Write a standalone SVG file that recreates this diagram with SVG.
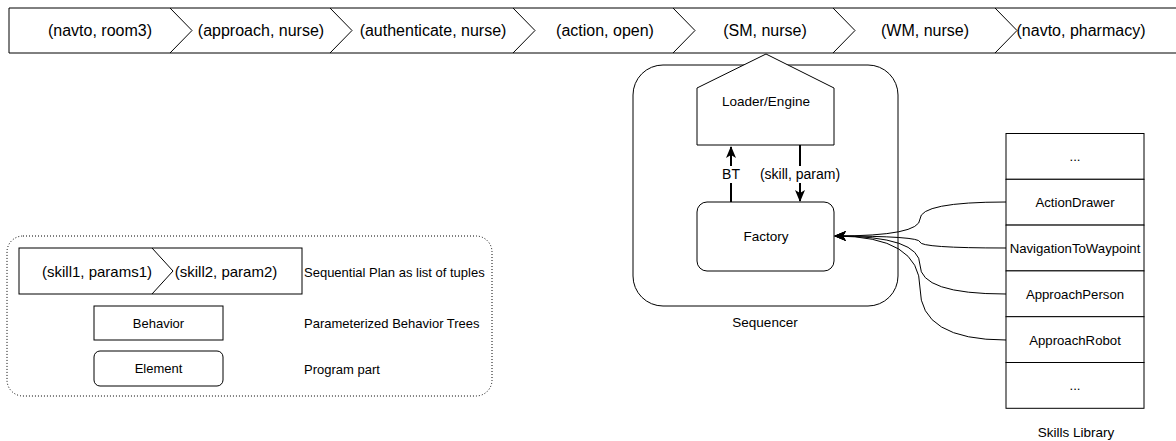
<svg xmlns="http://www.w3.org/2000/svg" width="1176" height="441" viewBox="0 0 1176 441">
  <style>
    .ln { fill: none; stroke: #000; stroke-width: 1; }
    .box { fill: #fff; stroke: #000; stroke-width: 1; }
    .t { font-family: "Liberation Sans", Arial, sans-serif; fill: #000; }
    .plan { font-size: 16px; text-anchor: middle; }
    .lg { font-size: 15px; text-anchor: middle; }
    .m { font-size: 13.5px; text-anchor: middle; }
    .sk { font-size: 13.2px; text-anchor: middle; }
    .lab { font-size: 13px; }
    .el { font-size: 14px; text-anchor: middle; }
    .thick { fill: none; stroke: #000; stroke-width: 2; }
  </style>
  <defs>
    <marker id="arrowBig" markerUnits="userSpaceOnUse" markerWidth="12" markerHeight="12" viewBox="0 0 12 12" refX="11" refY="6" orient="auto">
      <path d="M0,1 L12,6 L0,11 L3,6 z" fill="#000"/>
    </marker>
    <marker id="arrowSmall" markerUnits="userSpaceOnUse" markerWidth="12" markerHeight="12" viewBox="0 0 12 12" refX="11" refY="6" orient="auto">
      <path d="M0,1 L12,6 L0,11 L3,6 z" fill="#000"/>
    </marker>
  </defs>

  <rect width="1176" height="441" fill="#fff"/>

  <!-- sequential plan -->
  <g id="plan">
    <path class="ln" d="M1180,8 H9 V53 H1180"/>
    <path class="ln" d="M170,8 L192,30.5 L170,53"/>
    <path class="ln" d="M330,8 L352,30.5 L330,53"/>
    <path class="ln" d="M513,8 L535,30.5 L513,53"/>
    <path class="ln" d="M673,8 L695,30.5 L673,53"/>
    <path class="ln" d="M833,8 L855,30.5 L833,53"/>
    <path class="ln" d="M995,8 L1017,30.5 L995,53"/>
    <text class="t plan" x="100" y="36">(navto, room3)</text>
    <text class="t plan" x="261" y="36">(approach, nurse)</text>
    <text class="t plan" x="433" y="36">(authenticate, nurse)</text>
    <text class="t plan" x="605" y="36">(action, open)</text>
    <text class="t plan" x="765" y="36">(SM, nurse)</text>
    <text class="t plan" x="925" y="36">(WM, nurse)</text>
    <text class="t plan" x="1081" y="36">(navto, pharmacy)</text>
  </g>

  <!-- sequencer container -->
  <g id="sequencer">
    <rect class="box" x="633" y="65" width="265" height="241" rx="30"/>
    <text class="t m" x="765" y="327">Sequencer</text>
  </g>

  <g id="loader">
    <polygon class="box" points="697,88 766,54 834,88 834,145 697,145"/>
    <text class="t m" x="766" y="106">Loader/Engine</text>
  </g>

  <g id="factory">
    <rect class="box" x="697" y="202" width="137" height="69" rx="10"/>
    <text class="t m" x="766" y="241">Factory</text>
  </g>

  <!-- skills library -->
  <g id="skills">
    <rect class="box" x="1006" y="133.5" width="138" height="45.8"/>
    <rect class="box" x="1006" y="179.3" width="138" height="45.8"/>
    <rect class="box" x="1006" y="225.1" width="138" height="45.8"/>
    <rect class="box" x="1006" y="270.9" width="138" height="45.8"/>
    <rect class="box" x="1006" y="316.7" width="138" height="45.8"/>
    <rect class="box" x="1006" y="362.5" width="138" height="45.8"/>
    <text class="t sk" x="1075" y="161">...</text>
    <text class="t sk" x="1075" y="207">ActionDrawer</text>
    <text class="t sk" x="1075" y="253">NavigationToWaypoint</text>
    <text class="t sk" x="1075" y="299">ApproachPerson</text>
    <text class="t sk" x="1075" y="345">ApproachRobot</text>
    <text class="t sk" x="1075" y="390">...</text>
    <text class="t m" x="1076" y="437">Skills Library</text>
  </g>

  <!-- connectors -->
  <g id="connectors">
    <path class="thick" d="M731,202 V147" marker-end="url(#arrowBig)"/>
    <path class="thick" d="M800,145 V201" marker-end="url(#arrowBig)"/>
    <rect x="720" y="166" width="22" height="17" fill="#fff"/>
    <text class="t el" x="731" y="179">BT</text>
    <rect x="759" y="166" width="82" height="17" fill="#fff"/>
    <text class="t el" x="800" y="179">(skill, param)</text>

    <path class="ln" d="M1006,202 Q920,202 920,219 Q920,236 835,236" marker-end="url(#arrowSmall)"/>
    <path class="ln" d="M1006,248 Q920,248 920,242 Q920,236 835,236" marker-end="url(#arrowSmall)"/>
    <path class="ln" d="M1006,294 Q920,294 920,265 Q920,236 835,236" marker-end="url(#arrowSmall)"/>
    <path class="ln" d="M1006,340 Q920,340 920,288 Q920,236 835,236" marker-end="url(#arrowSmall)"/>
  </g>

  <!-- legend -->
  <g id="legend">
    <rect x="7" y="236" width="485" height="160" rx="16" fill="none" stroke="#000" stroke-width="1" stroke-dasharray="1 2"/>
    <g id="legend-plan">
      <rect class="box" x="19" y="248" width="283" height="46"/>
      <path class="ln" d="M152,248 L173,271 L152,294"/>
      <text class="t lg" x="97" y="276.5">(skill1, params1)</text>
      <text class="t lg" x="226" y="276.5">(skill2, param2)</text>
    </g>
    <g id="legend-behavior">
      <rect class="box" x="94" y="306" width="129" height="34"/>
      <text class="t lab" x="158.5" y="327.5" text-anchor="middle">Behavior</text>
    </g>
    <g id="legend-element">
      <rect class="box" x="94" y="351" width="129" height="35" rx="6"/>
      <text class="t lab" x="158.5" y="373" text-anchor="middle">Element</text>
    </g>
    <text class="t lab" x="304" y="276.5">Sequential Plan as list of tuples</text>
    <text class="t lab" x="304" y="328">Parameterized Behavior Trees</text>
    <text class="t lab" x="304" y="374">Program part</text>
  </g>
</svg>
